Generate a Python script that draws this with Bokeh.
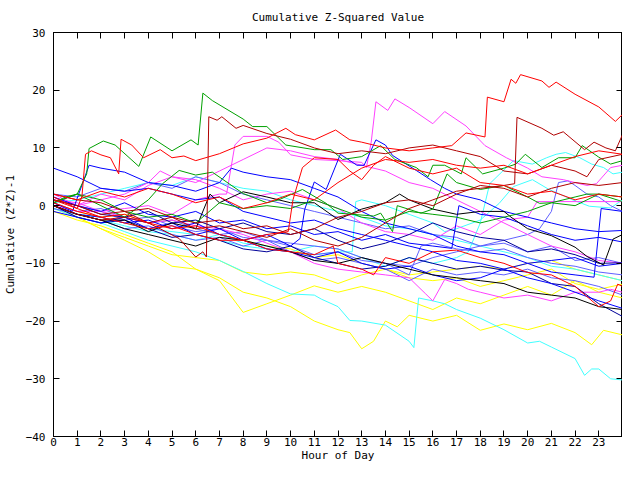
from bokeh.plotting import figure
from bokeh.models import Range1d, LinearAxis, FixedTicker
from bokeh.embed import file_html
from bokeh.resources import INLINE

# ---------------- data ----------------
HOURS = list(range(25))
X_TICKS = list(range(24))
Y_TICKS = [-40, -30, -20, -10, 0, 10, 20, 30]

TITLE = "Cumulative Z-Squared Value"
X_LABEL = "Hour of Day"
Y_LABEL = "Cumulative (Z*Z)-1"

RED = "#ff0000"
DRED = "#b00000"
GREEN = "#00a000"
BLUE = "#0000ff"
NAVY = "#000098"
SLATE = "#6060ff"
MAG = "#ff40ff"
CYAN = "#40ffff"
YEL = "#ffff00"
BLACK = "#000000"

red_a_x = [0, 0.5, 1, 1.2, 1.35, 1.6, 2, 2.4, 2.75, 2.85, 3.3, 3.8, 4.5, 5, 5.5, 6, 7, 8, 9, 9.8, 10.2, 11, 11.9, 12.5, 13, 14, 15, 16, 16.8, 17.4, 18.2, 18.3, 19, 19.3, 19.5, 19.7, 20.6, 20.9, 21.2, 22, 23, 23.7, 24]
red_a_y = [1.5, 0.5, -0.5, 1.6, 8.9, 9.5, 8.8, 8.3, 5.5, 11.5, 10.5, 8.3, 9.7, 8.3, 8.6, 7.8, 9, 10.7, 11.7, 13.4, 12.3, 11.4, 13.1, 11.4, 11, 10, 9.5, 10, 10.4, 12.6, 11.9, 18.8, 18, 21.9, 21.2, 22.7, 21.6, 20.5, 21.4, 19.3, 17.1, 14.6, 15.8]

red_b_y = [2, 1, 2.5, 1.5, 3, 2, 0.5, 1.5, -0.5, 0.5, 2, 1, 4, 6.5, 8, 7.5, 8, 7, 6.5, 7, 5.5, 7, 8.5, 9.5, 8.9]

red_c_x = [0, 1, 2, 3, 4, 5, 6, 7, 8, 9, 9.9, 10.1, 10.5, 11, 12, 12.5, 13, 13.5, 14, 15, 16, 17, 18, 19, 20, 21, 22, 23, 24]
red_c_y = [0.5, -1, -2, -1.5, -3, -4, -3.5, -5, -6, -5, -4.5, 1, 6.6, 8.3, 8, 6, 4.5, 7, 8.5, 6.5, 5.5, 6.5, 4, 3.5, 2, 2.5, 1, 2, 1.5]

red_d_x = [0, 1, 2, 3, 4, 5, 6, 7, 8, 9, 10, 11, 11.8, 12, 13, 13.5, 14, 15, 16, 17, 18, 19, 20, 21, 22, 23, 23.5, 23.8, 24]
red_d_y = [1, -0.5, -2, -3, -4, -3.5, -5, -6, -6, -7.5, -8, -8.5, -7, -10, -11, -12, -9, -10, -8, -7.7, -9, -10, -11.6, -12, -14, -17.5, -16.5, -13.6, -14]

dred_a_x = [0, 1, 2, 3, 4, 4.4, 5.3, 6, 6.3, 6.45, 6.55, 6.9, 7.1, 7.7, 8, 9, 10, 11, 12, 13, 14, 15, 16, 17, 18, 19, 20, 21, 22, 22.5, 23, 24]
dred_a_y = [0, -1.5, -2.5, -2, -3, -3.8, -5.7, -8.9, -8, -8.9, 15.4, 14.8, 15.4, 13.4, 13.9, 12.5, 11.5, 10, 9, 9.5, 9, 10, 10.5, 9.5, 8.5, 6, 5.5, 7, 6, 5, 8, 8.9]

dred_b_x = [0, 1, 2, 3, 4, 5, 6, 7, 8, 9, 10, 11, 12, 13, 14, 15, 16, 17, 18, 19, 19.45, 19.55, 20.6, 21.1, 21.5, 22.4, 22.8, 23.3, 23.7, 24]
dred_b_y = [1, 0, -1.5, -1, -3, -2, -4, -3.5, -4.5, -5.5, -4, -6, -7, -5.5, -3, -0.5, 1, 2.5, 3, 3.5, 3.8, 15.3, 13.4, 12.2, 12.8, 9.7, 11, 10, 9.5, 12.3]

dred_c_y = [2, 1, 0.5, -1, -0.5, -2, -3, -2.5, -4, -3.5, -5, -4, -2, -1, 0.5, 1, 0, 2, 3.5, 3, 1.5, 3, 4, 3.5, 4]

green_a_x = [0, 0.5, 1, 1.4, 1.5, 2.1, 2.6, 3.6, 4.1, 5, 5.8, 6.1, 6.3, 6.7, 8, 8.4, 9, 9.8, 11, 11.7, 12.2, 13, 13.8, 14.4, 15.3, 15.8, 16, 16.5, 17.2, 17.4, 18.1, 19, 19.5, 19.9, 20.6, 21.3, 22, 22.3, 23, 23.5, 24]
green_a_y = [0.5, 1.5, 2, 5.5, 9.9, 11.2, 10.5, 6.8, 11.9, 9.5, 11.4, 10.5, 19.5, 18.2, 15.0, 13.7, 13.7, 10.5, 9.7, 9.7, 8, 8.5, 10.4, 8, 6.6, 5, 7, 7, 5.5, 8.3, 5.5, 6.5, 7.2, 8.9, 6.6, 8.3, 8.3, 10.4, 8.4, 7.2, 7.8]

green_b_x = [0, 1, 2, 3, 4, 4.6, 5.3, 6, 6.7, 8, 9, 9.5, 10.5, 11.5, 12, 13.5, 13.8, 14.3, 14.5, 15.5, 16, 16.6, 17, 18, 19, 20, 20.5, 21, 22, 22.5, 23, 24]
green_b_y = [0.5, 2, 0, -2, 1, 3.8, 6.1, 5.3, 5.8, 2.1, 0.5, 1, 2.8, 0.4, -1.3, -1.8, -1.3, -4.5, 0, -1.3, -0.6, 5.5, 4, 2.8, 3.5, 1.5, 0.4, 0.5, 1.5, 2, 2, 0.7]

green_c_y = [0.5, 2, 1, -1, -2, -1.5, -3, 0.5, -0.5, 0, -0.5, 1, -0.5, -2, -2.5, -1, -1.5, -2, -3, -2, -1, 0.5, 0, 2, 1.5]

mag_a_x = [0, 1, 2, 3, 4, 5, 6, 7, 7.3, 7.65, 8, 9, 9.5, 10, 11, 12, 13, 13.2, 13.4, 13.6, 14.1, 14.4, 15, 16, 16.5, 17.4, 18.2, 19.1, 20, 20.6, 21.5, 22.5, 22.9, 23.5, 24]
mag_a_y = [1, 0.5, -1, -0.5, 0, -1.5, 1, 2, 2, 10.5, 12, 12, 11, 8.8, 8, 7.8, 7.5, 6.6, 11, 18, 16.5, 18.5, 17, 14.2, 16.3, 13.8, 10.4, 8.3, 6.5, 5, 4.5, 3.5, 3.8, 6.6, 7]

mag_b_x = [0, 1, 2, 3, 4, 4.5, 5, 6, 7, 8, 9, 10, 11, 12, 13, 14, 15, 16, 17, 18, 19, 20, 20.4, 24]
mag_b_y = [2, 0, 1, 2, 4, 6, 5, 4.5, 3, 1, 2, 2.5, 1, -0.5, -3, -4.5, -5, -6, -3.5, -5, -2.5, -2, 0.7, 0.7]

mag_c_x = [0, 1, 2, 3, 4, 5, 6, 7, 8, 9, 10, 11, 12, 13, 14, 15, 15.7, 16, 16.5, 17, 17.5, 18, 19, 20, 21, 22, 23, 23.5, 24]
mag_c_y = [0, -1, -1, -2, -3, -2.5, -3.5, -4, -5, -6.5, -8, -10, -11, -11.5, -12, -12.5, -15.3, -16.5, -12.8, -13.5, -14.5, -15, -16, -15.5, -16.5, -15, -15, -14.5, -15]

mag_d_y = [1.5, 0, 2, 1, 3.5, 5, 4, 6, 8, 10, 9.5, 8.5, 8, 7, 6, 4, 3, 1, -1, -3, -5, -7, -8, -9.5, -10]

cyan_a_x = [0, 1, 2, 3, 4, 5, 6, 7, 8, 9, 10, 11, 12, 13, 14, 15, 16, 17, 17.5, 18, 18.4, 19.4, 20.2, 20.8, 21.2, 21.6, 22.2, 22.7, 23.2, 23.6, 24]
cyan_a_y = [-0.5, -1.5, -2, -3, -4, -4.5, -5, -6, -7, -7.5, -8, -7, -7.5, -9, -10.5, -9, -10, -9, -8, -3, 3.8, 7.8, 7.2, 8.3, 8.9, 9.2, 8.3, 7.2, 6.6, 5.5, 5.8]

cyan_b_x = [0, 1, 2, 3, 4, 5, 6, 7, 8, 9, 10, 11, 12, 12.6, 12.75, 13, 14, 15, 16, 16.5, 17, 18, 18.8, 19.4, 20.2, 20.9, 21.3, 21.9, 22.6, 23.5, 24]
cyan_b_y = [0, -1.5, -2.5, -3.5, -4.5, -5, -6, -5, -6.5, -7, -8, -8.5, -8, -8, 0.7, 1, 0, -1.5, -3, -4.5, -4, -2.5, 0.4, 3.3, 4.5, 2.8, 2.1, 1, -0.1, -0.4, 1]

cyan_c_x = [0, 1, 2, 3, 4, 5, 6, 7, 8, 9, 10, 11, 11.3, 12, 12.5, 13, 14, 15, 15.2, 15.4, 16, 16.5, 17, 18, 19, 20, 20.5, 21, 22, 22.4, 22.7, 23, 23.5, 24]
cyan_c_y = [-0.5, -2, -3, -4.5, -6, -7, -8, -9.5, -11.4, -13.5, -15.3, -15.5, -16.2, -17.5, -19.9, -20, -20.7, -23.5, -24.6, -16, -16.5, -17, -18, -19.5, -21.5, -23.8, -23.5, -24.5, -26.5, -29.4, -28.3, -28.3, -30, -30.2]

cyan_d_y = [0.5, 1, 2, 3, 4, 3.5, 5, 4, 3, 2.5, 1, 0, -1, -2, -3.5, -4, -5, -6, -7, -8, -9, -10.5, -11, -12, -13]

yel_a_x = [0, 1, 2, 3, 4, 5, 6, 7, 8, 9, 10, 11, 12, 12.5, 13, 13.5, 14, 14.5, 15, 16, 17, 18, 19, 20, 21, 22, 22.7, 23.2, 24]
yel_a_y = [-0.5, -2, -4, -6, -8, -10.5, -11, -12.5, -15, -16, -17.5, -20, -21.5, -22, -24.8, -23.5, -20, -21, -19, -20, -19, -21.6, -20.5, -21.5, -20.4, -22, -24.1, -21.6, -22.4]

yel_b_y = [0, -2, -4, -5.5, -7, -8.5, -9, -9.5, -11.5, -12, -11.5, -12, -13.5, -12, -11, -12.5, -13, -12.5, -14, -13, -12, -11, -13.5, -14.5, -13.6]
yel_c_y = [-1, -2.5, -3.5, -5, -6.5, -8, -11, -13, -18.5, -17, -15.5, -13.9, -15, -14, -15, -16.5, -18, -16, -17, -15.5, -14, -15.5, -13, -15, -16]
yel_d_y = [0.5, -1, -2, -1.5, -3, -2.5, -4, -5, -6, -7, -7.5, -9, -8.5, -10, -11, -12, -11.5, -11, -10.5, -11, -10, -9.5, -11, -12, -13]

blue_a_y = [6.5, 5, 3, 2.5, 3, 2, 1, 1.5, -1, -2, -3, -2.5, -4, -5, -6, -7, -8, -9.5, -10, -11, -12.5, -13.5, -15, -16.5, -17.8]

blue_b_x = [0, 0.8, 1.5, 2, 3, 4, 5, 6, 7, 7.5, 8, 9, 10, 11, 12, 13, 14, 15, 16, 17, 18, 19, 20, 21, 22, 23, 24]
blue_b_y = [0.5, -1, 7, 6.5, 5.8, 4, 3.5, 2.5, 4, 6.5, 5.8, 5, 4.5, 3, 1.5, -1, -3, -4, -5, -7, -8, -8.5, -10, -9.5, -9, -10.5, -10]

blue_c_x = [0, 1, 2, 3, 4, 5, 6, 7, 8, 9, 10, 10.4, 10.6, 11, 11.5, 12.1, 12.8, 13.1, 13.6, 14, 14.3, 15.3, 15.9, 16.5, 17, 18, 19, 20, 21, 22, 23, 24]
blue_c_y = [-1, -2, -3, -2, -4, -3, -5, -4, -6, -5, -7, -5.7, -0.6, 4.1, 2.8, 8.9, 7, 7, 11.4, 10.5, 8.7, 6.1, 4.5, 3, 2, 1, -1, -2, -3, -4, -4.5, -4.3]

blue_d_x = [0, 1, 2, 3, 4, 5, 6, 7, 8, 9, 10, 11, 12, 13, 14, 15, 16, 17, 18, 19, 20, 21, 22, 22.8, 23.1, 24]
blue_d_y = [0, -1.5, -2, -3, -2.5, -4, -3, -5, -6, -7.5, -8, -9, -8, -10, -11, -10.5, -12, -13, -12.5, -11, -10, -11.5, -12, -12.4, -0.5, -1]

blue_e_x = [0, 1, 2, 3, 4, 5, 6, 7, 8, 9, 10, 11, 12, 13, 14, 15, 16, 16.8, 17.1, 18, 19, 20, 21, 22, 23, 24]
blue_e_y = [1.5, 0, -1, 0.5, -1.5, -2, -1, -3, -2.5, -4, -3.5, -5, -4.5, -6, -5, -6.5, -7, -7.4, 0, -1.5, -2, -3.5, -5, -6, -5.5, -6.3]

navy_a_y = [0, -2, -3, -2.5, -4, -5.5, -5, -6, -7.5, -8, -7, -9, -10, -11, -10.5, -9, -10, -11, -10.5, -11.2, -11.5, -13.5, -14, -17, -19.2]
navy_b_y = [1, 0, -1.5, -2, -1, -3, -2.5, -4, -3, -4.5, -5, -4, -6, -7.5, -6.5, -5, -3, -4.5, -5.5, -6, -8, -7.5, -8.5, -10, -9.9]

slate_a_x = [0, 1, 2, 3, 4, 5, 6, 7, 8, 9, 10, 11, 12, 13, 14, 15, 16, 17, 18, 19, 20, 20.5, 21, 21.3, 21.7, 22, 22.5, 23, 23.5, 24]
slate_a_y = [0.5, -1, -0.5, -2, -3, -2.5, -4, -5, -4.5, -6, -7, -8.5, -8, -9.5, -10, -10.5, -9, -8, -7, -6, -5, -4, -1, 4, 4.3, 3.5, 2, 1.5, 0, -1]

slate_b_y = [-0.5, -1.5, -2.5, -4, -3.5, -5, -6, -5.5, -7, -6, -8, -9.5, -9, -10, -11, -13, -11, -12, -11.5, -12, -11, -12.5, -13, -14, -15.5]

slate_c_x = [0, 1, 2, 3, 4, 5, 6, 7, 8, 9, 10, 11, 12, 13, 14, 15, 15.5, 16, 17, 18, 19, 20, 21, 22, 23, 24]
slate_c_y = [1, 0, -1, -2.5, -2, -3.5, -4.5, -4, -5.5, -6, -6.5, -7, -7.5, -9, -10, -12, -7, -6.5, -7.5, -8, -7.5, -9, -10, -10.5, -11.5, -12]

slate_d_y = [2, 1.5, 3, 2.5, 4, 3, 5, 4, 2, 1, 0, -1, -2, -3, -4, -3.5, -5, -5.5, -7, -6.5, -8, -7, -9.5, -9, -10]

black_a_x = [0, 1, 2, 3, 4, 5, 6, 6.6, 7, 8, 9, 10, 11, 12, 13, 14, 14.6, 15, 16, 17, 18, 19, 19.3, 20, 21, 22, 22.5, 23.2, 23.6, 24]
black_a_y = [0, -1.5, -2.5, -2.5, -4.5, -3, -4, 2, 0.5, 2.4, 1.5, 0.5, 0.5, -2.4, -0.6, 0.5, 2, 1, -0.6, -1.5, -1, -1, -2, -4, -5.2, -7.2, -8.8, -10.3, -5.8, -5]

black_b_y = [0, -1.5, -2.5, -4, -5, -6, -7, -5.5, -6, -7, -8, -9.5, -10, -9, -10, -11, -12, -12.5, -13, -13.5, -15, -15.5, -16, -17.5, -18]

series = [
    (HOURS, yel_d_y, YEL), (HOURS, yel_b_y, YEL), (HOURS, yel_c_y, YEL), (yel_a_x, yel_a_y, YEL),
    (cyan_c_x, cyan_c_y, CYAN), (HOURS, cyan_d_y, CYAN), (cyan_b_x, cyan_b_y, CYAN), (cyan_a_x, cyan_a_y, CYAN),
    (HOURS, slate_b_y, SLATE), (slate_c_x, slate_c_y, SLATE), (HOURS, slate_d_y, SLATE), (slate_a_x, slate_a_y, SLATE),
    (mag_c_x, mag_c_y, MAG), (HOURS, mag_d_y, MAG), (mag_b_x, mag_b_y, MAG), (mag_a_x, mag_a_y, MAG),
    (HOURS, navy_a_y, NAVY), (HOURS, navy_b_y, NAVY),
    (HOURS, blue_a_y, BLUE), (blue_b_x, blue_b_y, BLUE), (blue_c_x, blue_c_y, BLUE),
    (blue_d_x, blue_d_y, BLUE), (blue_e_x, blue_e_y, BLUE),
    (HOURS, black_b_y, BLACK), (black_a_x, black_a_y, BLACK),
    (HOURS, green_c_y, GREEN), (green_b_x, green_b_y, GREEN), (green_a_x, green_a_y, GREEN),
    (HOURS, dred_c_y, DRED), (dred_b_x, dred_b_y, DRED), (dred_a_x, dred_a_y, DRED),
    (red_d_x, red_d_y, RED), (red_c_x, red_c_y, RED), (HOURS, red_b_y, RED), (red_a_x, red_a_y, RED),
]

# ---------------- figure ----------------
FONT = "DejaVu Sans Mono"

p = figure(width=622, height=464, x_range=Range1d(0, 24), y_range=Range1d(-40, 30),
           output_backend="svg", toolbar_location=None,
           min_border_left=43, min_border_right=0, min_border_top=0, min_border_bottom=0)

p.background_fill_color = "white"
p.border_fill_color = "white"
p.outline_line_color = "black"
p.outline_line_width = 1
p.xgrid.visible = False
p.ygrid.visible = False

p.title.text = TITLE
p.title.align = "center"
p.title.text_font = FONT
p.title.text_font_size = "11px"
p.title.text_font_style = "normal"
p.title.text_color = "black"
p.title.standoff = 17

for xs, ys, c in series:
    p.line(xs, ys, line_color=c, line_width=1)


def style_axis(ax, ticks, show_labels):
    ax.ticker = FixedTicker(ticks=ticks, minor_ticks=[])
    ax.major_tick_in = 6
    ax.major_tick_out = 0
    ax.minor_tick_in = 0
    ax.minor_tick_out = 0
    ax.axis_line_color = "black"
    ax.major_tick_line_color = "black"
    if show_labels:
        ax.major_label_text_font = FONT
        ax.major_label_text_font_size = "11px"
        ax.major_label_text_color = "black"
        ax.axis_label_text_font = FONT
        ax.axis_label_text_font_size = "11px"
        ax.axis_label_text_font_style = "normal"
        ax.axis_label_text_color = "black"
    else:
        ax.major_label_text_font_size = "0px"
        ax.major_label_text_color = None
        ax.major_label_standoff = 0
        ax.axis_label_standoff = 0


style_axis(p.xaxis[0], X_TICKS, True)
p.xaxis[0].axis_label = X_LABEL
p.xaxis[0].major_label_standoff = 1
p.xaxis[0].axis_label_standoff = 0

style_axis(p.yaxis[0], Y_TICKS, True)
p.yaxis[0].axis_label = Y_LABEL
p.yaxis[0].major_label_standoff = 8
p.yaxis[0].axis_label_standoff = 6

top_axis = LinearAxis()
style_axis(top_axis, X_TICKS, False)
p.add_layout(top_axis, "above")

right_axis = LinearAxis()
style_axis(right_axis, Y_TICKS, False)
p.add_layout(right_axis, "right")

open("out.html", "w").write(file_html(p, INLINE))
